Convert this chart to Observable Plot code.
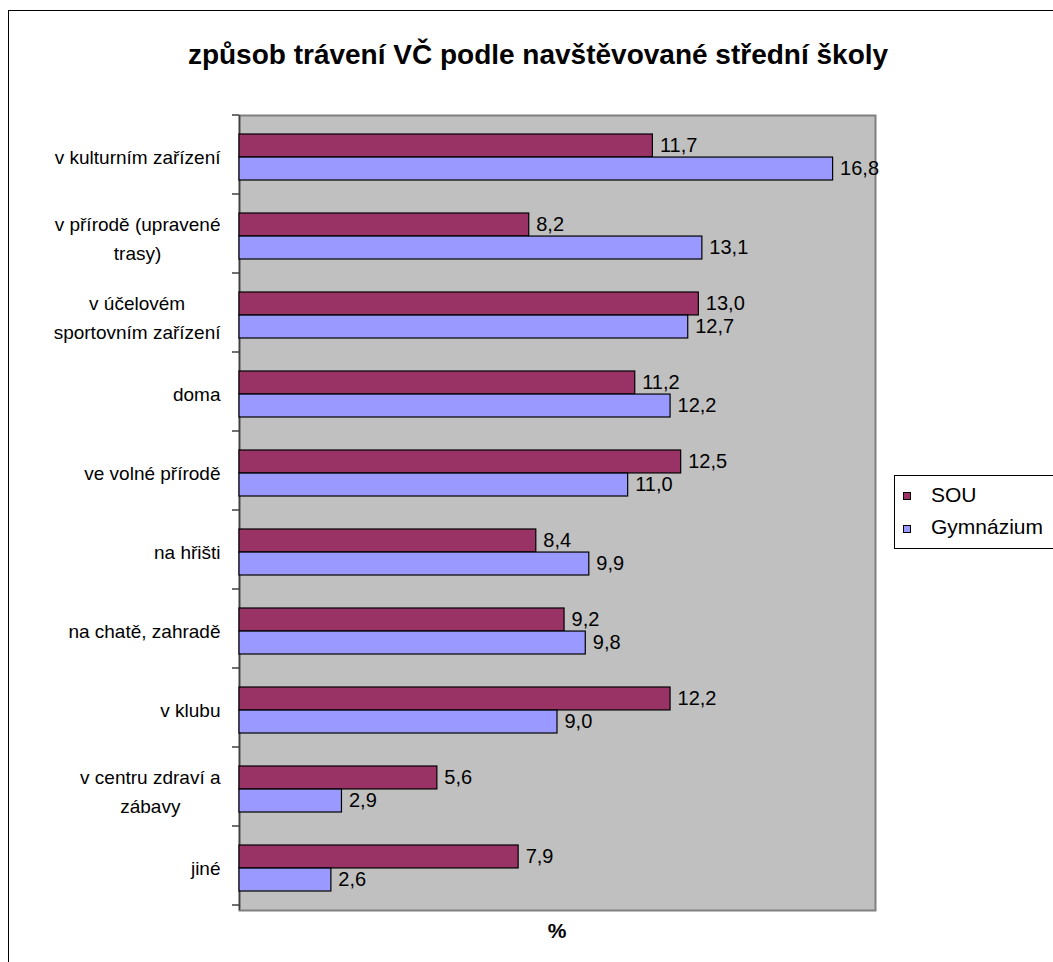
<!DOCTYPE html>
<html>
<head>
<meta charset="utf-8">
<script src="https://cdn.jsdelivr.net/npm/d3@7"></script>
<script src="https://cdn.jsdelivr.net/npm/@observablehq/plot@0.6"></script>
<style>
  body { margin: 0; background: #fff; font-family: "Liberation Sans", Arial, sans-serif; }
  #wrap { position: relative; width: 1053px; height: 962px; overflow: hidden; }
  #border { position: absolute; left: 8px; top: 10px; width: 1200px; height: 1200px;
            border-left: 1.5px solid #000; border-top: 1.5px solid #000; }
  #chart { position: absolute; left: 0; top: 0; }
  #title { position: absolute; left: 538px; top: 41px; transform: translateX(-50%);
           white-space: nowrap; font-weight: bold; font-size: 28px; line-height: 28px; color: #000; }
  #xlabel { position: absolute; left: 557px; top: 920px; transform: translateX(-50%);
            font-weight: bold; font-size: 21px; line-height: 21px; }
  #legend { position: absolute; left: 894px; top: 475px; width: 220px; height: 72px;
            border: 1px solid #000; background: #fff; }
  .sw { position: absolute; left: 8px; width: 6px; height: 6px; border: 1px solid #000; }
  .lt { position: absolute; left: 36px; font-size: 21px; line-height: 21px; white-space: nowrap; }
</style>
</head>
<body>
<div id="wrap">
  <div id="border"></div>
  <div id="chart"></div>
  <div id="title"></div>
  <div id="xlabel"></div>
  <div id="legend"></div>
</div>
<script>
// ---- data ----
const categories = [
  "v kulturním zařízení",
  "v přírodě (upravené trasy)",
  "v účelovém sportovním zařízení",
  "doma",
  "ve volné přírodě",
  "na hřišti",
  "na chatě, zahradě",
  "v klubu",
  "v centru zdraví a zábavy",
  "jiné"
];
const tickLabels = [
  "v kulturním zařízení",
  "v přírodě (upravené\ntrasy)",
  "v účelovém\nsportovním zařízení",
  "doma",
  "ve volné přírodě",
  "na hřišti",
  "na chatě, zahradě",
  "v klubu",
  "v centru zdraví a\nzábavy",
  "jiné"
];
const series = ["SOU", "Gymnázium"];
const souValues = [11.7, 8.2, 13.0, 11.2, 12.5, 8.4, 9.2, 12.2, 5.6, 7.9];
const gymValues = [16.8, 13.1, 12.7, 12.2, 11.0, 9.9, 9.8, 9.0, 2.9, 2.6];
const colors = ["#993366", "#9999FF"];
const titleText = "způsob trávení VČ podle navštěvované střední školy";
const xLabel = "%";

// ---- layout ----
const W = 1053, H = 962;
const mTop = 115, mBottom = 52, mLeft = 239, mRight = 178;
const padInner = 0.42, padOuter = 0.21;
const step = (H - mTop - mBottom) / (categories.length - padInner + 2 * padOuter);
const bw = step * (1 - padInner);
const half = bw / 2;
const labelFont = 19, labelGap = 19;

const souRows = categories.map((c, i) => ({category: c, series: series[0], value: souValues[i]}));
const gymRows = categories.map((c, i) => ({category: c, series: series[1], value: gymValues[i]}));
const fmt = v => v.toFixed(1).replace(".", ",");
const labelOf = c => tickLabels[categories.indexOf(c)];

// measure label widths to center multi-line labels like Excel does
const ctx = document.createElement("canvas").getContext("2d");
ctx.font = `${labelFont}px 'Liberation Sans', Arial, sans-serif`;
const widest = s => Math.max(...s.split("\n").map(l => ctx.measureText(l).width));
const singleCats = categories.filter(c => !labelOf(c).includes("\n"));
const multiCats = categories.filter(c => labelOf(c).includes("\n"));

const plot = Plot.plot({
  width: W, height: H,
  marginTop: mTop, marginBottom: mBottom, marginLeft: mLeft, marginRight: mRight,
  style: {fontFamily: "'Liberation Sans', Arial, sans-serif", fontSize: "20px", background: "transparent", color: "#000"},
  x: {domain: [0, 18], axis: null},
  y: {domain: categories, paddingInner: padInner, paddingOuter: padOuter, axis: null},
  marks: [
    Plot.frame({fill: "#C0C0C0", stroke: "#808080", strokeWidth: 2}),
    Plot.ruleX([0], {stroke: "#404040", strokeWidth: 1.5}),
    Plot.barX(souRows, {x: "value", y: "category", fill: colors[0], stroke: "#000", strokeWidth: 1.2, insetBottom: half}),
    Plot.barX(gymRows, {x: "value", y: "category", fill: colors[1], stroke: "#000", strokeWidth: 1.2, insetTop: half}),
    Plot.text(souRows, {x: "value", y: "category", text: d => fmt(d.value), dx: 7, dy: -half / 2, textAnchor: "start", fontSize: 20}),
    Plot.text(gymRows, {x: "value", y: "category", text: d => fmt(d.value), dx: 7, dy: half / 2, textAnchor: "start", fontSize: 20}),
    Plot.text(singleCats, {y: d => d, text: d => labelOf(d), frameAnchor: "left", dx: -labelGap, textAnchor: "end", fontSize: labelFont}),
    ...multiCats.map(c => Plot.text([c], {y: d => d, text: d => labelOf(d), frameAnchor: "left",
        dx: -labelGap - widest(labelOf(c)) / 2, textAnchor: "middle", lineHeight: 1.5, fontSize: labelFont}))
  ]
});

document.getElementById("chart").appendChild(plot);
const svg = d3.select(plot);

// boundary ticks on the category axis, from the plot's own scales
const ys = plot.scale("y");
const xs = plot.scale("x");
const st = ys.step || (ys.range[1] - ys.range[0]) / categories.length;
const x0 = xs.apply(0);
const tg = svg.append("g").attr("stroke", "#404040").attr("stroke-width", 1.5);
for (let i = 0; i <= categories.length; i++) {
  const yy = ys.range[0] + i * st;
  tg.append("line").attr("x1", x0 - 7).attr("x2", x0).attr("y1", yy).attr("y2", yy);
}

// title, axis label, legend
document.getElementById("title").textContent = titleText;
document.getElementById("xlabel").textContent = xLabel;
const legend = d3.select("#legend");
const swTops = [16, 49], txTops = [8, 40];
series.forEach((s, i) => {
  legend.append("div").attr("class", "sw").style("top", swTops[i] + "px").style("background", colors[i]);
  legend.append("div").attr("class", "lt").style("top", txTops[i] + "px").text(s);
});
</script>
</body>
</html>
